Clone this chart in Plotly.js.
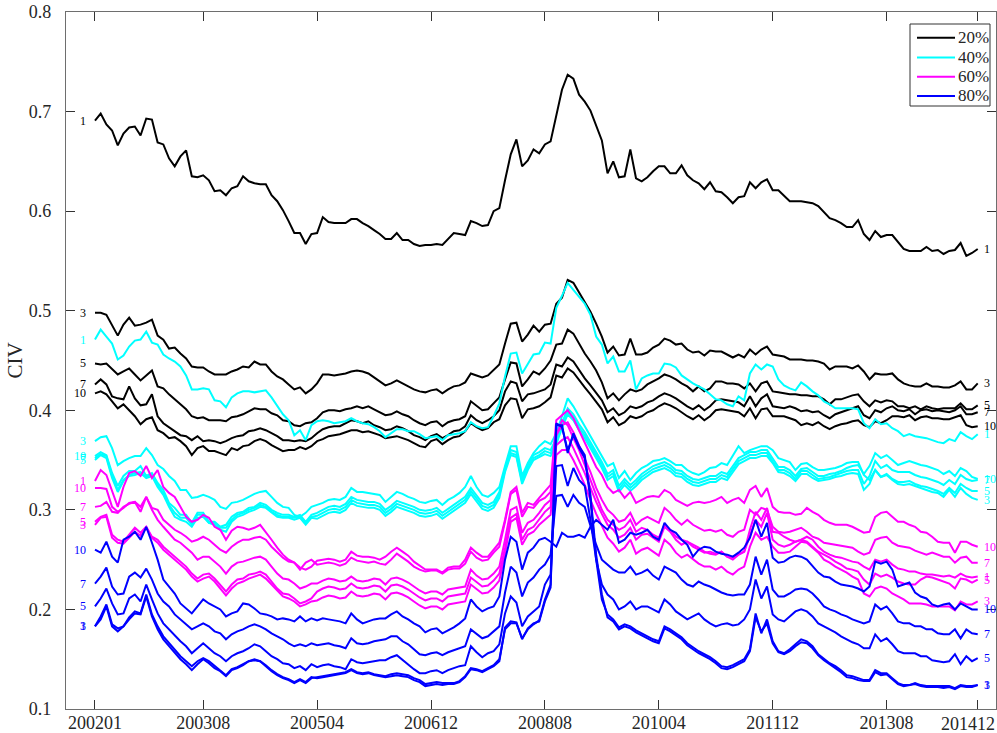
<!DOCTYPE html>
<html>
<head>
<meta charset="utf-8">
<script src="https://cdn.plot.ly/plotly-3.0.1.min.js"></script>
<style>
  html, body { margin: 0; padding: 0; background: #ffffff; }
  #chart { width: 997px; height: 733px; }
</style>
</head>
<body>
<div id="chart"></div>
<script>
// Monthly CIV term structure, 2002-01 .. 2014-12 (156 months), four quantile levels x five maturities.
const tickMonths = [0, 19, 39, 59, 79, 99, 119, 139, 155];
const tickLabels = ['200201', '200308', '200504', '200612', '200808', '201004', '201112', '201308', '201412'];
const maturities = ['1', '3', '5', '7', '10'];
const levels = ['20%', '40%', '60%', '80%'];
const levelColors = ['#000000', '#00ffff', '#ff00ff', '#0000ff'];

// 20% level
const p20_1 = [0.691,0.698,0.687,0.681,0.666,0.678,0.684,0.685,0.676,0.693,0.692,0.669,0.667,0.653,0.645,0.655,0.661,0.635,0.634,0.636,0.631,0.620,0.621,0.616,0.623,0.625,0.635,0.630,0.628,0.627,0.627,0.616,0.610,0.601,0.590,0.578,0.578,0.567,0.577,
0.578,0.594,0.589,0.588,0.588,0.588,0.592,0.592,0.588,0.585,0.581,0.577,0.572,0.572,0.578,0.571,0.571,0.567,0.565,0.566,0.566,0.567,0.566,0.572,0.578,0.577,0.576,0.590,0.588,0.585,0.586,0.600,0.603,0.631,0.657,0.672,0.645,0.651,0.662,0.658,
0.667,0.670,0.695,0.722,0.737,0.733,0.717,0.710,0.701,0.686,0.671,0.638,0.650,0.634,0.635,0.662,0.633,0.630,0.634,0.640,0.645,0.645,0.638,0.638,0.646,0.636,0.631,0.628,0.622,0.629,0.620,0.619,0.614,0.608,0.614,0.615,0.629,0.623,0.629,0.632,
0.621,0.621,0.615,0.610,0.610,0.610,0.609,0.608,0.605,0.599,0.593,0.591,0.588,0.584,0.584,0.591,0.577,0.571,0.580,0.574,0.576,0.576,0.569,0.562,0.560,0.560,0.560,0.564,0.560,0.561,0.557,0.560,0.561,0.568,0.555,0.558,0.562];
const p20_3 = [0.498,0.498,0.496,0.486,0.475,0.486,0.493,0.485,0.486,0.488,0.491,0.475,0.471,0.462,0.463,0.457,0.452,
0.444,0.443,0.443,0.439,0.436,0.436,0.436,0.439,0.441,0.444,0.443,0.449,0.446,0.446,0.439,0.434,0.431,0.426,0.421,0.423,0.417,0.421,
0.427,0.436,0.436,0.435,0.436,0.437,0.439,0.440,0.439,0.437,0.433,0.429,0.425,0.427,0.430,0.427,0.424,0.421,0.419,0.418,0.420,0.421,0.417,0.421,0.424,0.425,0.428,0.437,0.435,0.433,0.435,0.441,0.446,0.467,
0.487,0.488,0.469,0.476,0.485,0.479,0.486,0.487,0.507,0.513,0.531,0.528,0.518,0.509,0.499,0.487,0.474,0.458,0.464,0.455,0.456,0.472,0.456,0.456,0.458,0.463,0.466,0.472,0.470,0.466,0.467,0.461,0.458,0.459,0.455,0.460,0.459,0.459,0.456,0.453,0.456,0.453,0.461,0.456,0.461,0.464,
0.456,0.455,0.454,0.451,0.451,0.451,0.450,0.450,0.449,0.447,0.441,0.444,0.444,0.444,0.442,0.445,0.439,0.431,0.437,0.436,0.436,0.437,0.431,0.427,0.425,0.424,0.424,0.427,0.424,0.424,0.423,0.423,0.425,0.429,0.421,0.421,0.427];
const p20_5 = [0.447,0.446,0.447,0.442,0.436,0.439,0.442,0.436,0.430,0.435,0.440,0.424,0.422,0.416,0.411,0.406,0.401,0.394,0.392,0.393,0.390,0.390,0.390,0.389,0.393,0.394,0.396,0.399,0.402,0.401,0.401,0.397,0.395,0.390,0.389,0.385,0.384,0.387,0.388,
0.392,0.398,0.400,0.400,0.399,0.401,0.402,0.404,0.402,0.404,0.401,0.398,0.395,0.396,0.399,0.396,0.394,0.390,0.387,0.385,0.388,0.389,0.384,0.388,0.390,0.391,0.394,0.409,0.404,0.400,0.401,0.407,0.413,0.431,0.448,0.447,0.424,0.431,0.439,0.436,
0.442,0.450,0.466,0.467,0.481,0.477,0.467,0.457,0.449,0.440,0.428,0.412,0.417,0.410,0.416,0.421,0.419,0.421,0.426,0.429,0.432,0.436,0.434,0.431,0.427,0.424,0.419,0.424,0.419,0.422,0.429,0.429,0.427,0.427,0.426,0.422,
0.427,0.419,0.427,0.429,0.419,0.418,0.417,0.416,0.416,0.415,0.415,0.414,0.414,0.411,0.406,0.411,0.411,0.413,0.415,0.416,0.409,0.404,0.410,0.408,0.410,0.409,0.404,0.404,0.402,0.404,0.401,0.404,0.402,0.401,0.402,0.402,0.402,0.407,0.401,0.401,0.405];
const p20_7 = [0.426,0.431,0.426,0.414,0.412,0.411,0.424,0.412,0.405,0.406,0.416,0.394,0.387,0.383,0.379,0.375,0.374,0.370,0.374,0.369,0.370,0.369,0.367,0.369,0.372,0.374,0.375,0.379,0.380,0.382,0.380,0.377,0.374,0.370,0.370,
0.369,0.370,0.369,0.372,0.377,0.381,0.383,0.384,0.384,0.387,0.390,0.389,0.387,0.389,0.385,0.383,0.380,0.381,0.384,0.382,0.379,0.375,0.373,0.370,0.374,0.376,0.372,0.375,0.379,0.380,0.384,0.395,0.390,0.387,0.390,0.394,0.400,0.419,0.429,0.427,0.409,0.416,0.417,0.419,
0.421,0.426,0.446,0.444,0.453,0.449,0.440,0.432,0.425,0.418,0.410,0.398,0.402,0.395,0.398,0.404,0.402,0.404,0.408,0.410,0.414,0.417,0.415,0.412,0.408,0.404,0.401,0.405,0.400,0.404,0.410,0.411,0.410,0.409,0.408,0.404,
0.414,0.404,0.412,0.416,0.404,0.403,0.402,0.404,0.402,0.399,0.400,0.398,0.399,0.395,0.392,0.396,0.398,0.400,0.402,0.404,0.395,0.392,0.400,0.398,0.402,0.404,0.400,0.399,0.401,0.396,0.400,0.401,0.399,0.400,0.399,0.398,0.400,0.404,0.396,0.396,0.398];
const p20_10 = [0.417,0.419,0.416,0.409,0.402,0.406,0.400,0.394,0.386,0.391,0.393,0.380,0.377,0.372,0.373,0.369,0.364,0.355,0.362,0.364,0.359,0.359,0.357,0.355,0.362,0.360,0.364,0.365,0.369,0.371,0.369,0.365,0.362,0.359,0.360,
0.360,0.363,0.361,0.364,0.369,0.371,0.374,0.375,0.376,0.378,0.380,0.380,0.378,0.379,0.377,0.375,0.372,0.373,0.374,0.372,0.370,0.367,0.364,0.363,0.369,0.371,0.366,0.370,0.373,0.374,0.379,0.387,0.383,0.380,0.382,0.388,0.391,0.405,0.412,0.411,0.392,0.401,0.402,0.404,
0.408,0.413,0.435,0.433,0.442,0.438,0.430,0.423,0.416,0.409,0.401,0.388,0.393,0.385,0.388,0.394,0.392,0.394,0.398,0.400,0.404,0.407,0.405,0.402,0.398,0.394,0.391,0.395,0.390,0.394,0.400,0.401,0.400,0.399,0.398,0.394,
0.402,0.392,0.401,0.402,0.394,0.394,0.394,0.392,0.390,0.385,0.387,0.385,0.388,0.384,0.381,0.384,0.386,0.387,0.389,0.390,0.385,0.383,0.389,0.387,0.390,0.394,0.394,0.393,0.395,0.390,0.393,0.394,0.392,0.392,0.391,0.391,0.393,0.395,0.385,0.383,0.384];

// 40% level
const p40_1 = [0.471,0.481,0.474,0.467,0.451,0.455,0.464,0.470,0.471,0.479,0.468,0.466,0.456,0.452,
0.449,0.444,0.435,0.421,0.421,0.422,0.421,0.410,0.409,0.403,0.413,0.417,0.419,0.419,0.418,0.419,0.420,0.413,0.404,0.396,0.390,0.375,0.380,0.370,0.385,
0.389,0.390,0.389,0.387,0.388,0.389,0.392,0.389,0.387,0.386,0.383,0.379,0.373,0.377,0.381,0.381,0.379,0.379,0.376,0.372,0.373,0.374,0.370,0.375,0.376,0.377,0.379,0.388,0.384,0.382,0.383,0.394,0.407,0.434,0.457,0.458,0.437,0.447,0.456,0.457,
0.468,0.467,0.503,0.515,0.528,0.521,0.514,0.507,0.496,0.474,0.466,0.447,0.454,0.439,0.439,0.450,0.421,0.432,0.435,0.437,0.437,0.447,0.446,0.443,0.435,0.431,0.427,0.424,0.421,0.416,0.411,0.410,0.406,0.404,0.414,0.410,0.437,0.446,0.441,0.446,
0.444,0.431,0.425,0.422,0.420,0.428,0.424,0.419,0.415,0.409,0.406,0.402,0.402,0.402,0.402,0.401,0.387,0.382,0.391,0.386,0.387,0.382,0.379,0.374,0.376,0.374,0.373,0.372,0.370,0.368,0.367,0.371,0.369,0.378,0.374,0.371,0.376];
const p40_3 = [0.369,0.373,0.374,0.362,0.345,0.349,0.352,0.354,0.354,0.362,0.355,0.345,0.341,0.334,0.329,0.320,0.320,0.312,0.313,0.315,0.313,0.310,0.303,0.301,0.307,0.308,0.310,0.313,0.316,0.318,0.319,0.313,0.307,0.303,0.302,0.295,0.293,0.297,0.303,
0.305,0.307,0.310,0.311,0.310,0.313,0.322,0.318,0.318,0.317,0.316,0.315,0.308,0.313,0.318,0.316,0.313,0.311,0.308,0.307,0.309,0.310,0.305,0.310,0.313,0.317,0.323,0.334,0.323,0.315,0.313,0.317,0.323,0.344,0.364,0.364,0.334,0.347,0.357,0.364,
0.369,0.366,0.377,0.394,0.412,0.404,0.394,0.385,0.374,0.364,0.354,0.344,0.347,0.332,0.339,0.330,0.337,0.342,0.345,0.349,0.350,0.352,0.349,0.345,0.345,0.340,0.337,0.335,0.338,0.342,0.343,0.347,0.345,0.354,0.364,0.357,0.360,0.362,0.364,0.364,
0.360,0.352,0.350,0.348,0.340,0.346,0.347,0.343,0.340,0.340,0.341,0.342,0.344,0.347,0.348,0.348,0.335,0.330,0.340,0.333,0.335,0.330,0.326,0.325,0.326,0.324,0.322,0.320,0.318,0.317,0.313,0.320,0.313,0.322,0.316,0.312,0.310];
const p40_5 = [0.350,0.355,0.352,0.332,0.318,0.329,0.334,0.335,0.337,0.332,0.334,0.323,0.315,0.303,0.293,0.290,0.288,0.283,0.292,0.293,0.287,0.285,0.280,0.278,0.288,0.293,0.295,0.298,0.300,0.303,0.302,0.297,0.293,0.292,0.292,0.290,0.292,0.285,0.292,
0.291,0.294,0.297,0.298,0.297,0.300,0.307,0.304,0.303,0.302,0.302,0.300,0.294,0.298,0.303,0.301,0.299,0.297,0.294,0.293,0.294,0.296,0.291,0.295,0.299,0.303,0.307,0.316,0.309,0.301,0.299,0.302,0.312,0.338,0.355,0.353,0.326,0.340,0.350,0.353,
0.356,0.354,0.366,0.382,0.396,0.390,0.380,0.372,0.362,0.352,0.342,0.330,0.334,0.318,0.325,0.319,0.324,0.330,0.334,0.338,0.340,0.342,0.339,0.334,0.333,0.328,0.325,0.324,0.326,0.328,0.328,0.332,0.330,0.338,0.346,0.349,0.352,0.352,0.354,0.354,
0.347,0.338,0.337,0.334,0.329,0.336,0.336,0.332,0.329,0.330,0.331,0.333,0.334,0.336,0.337,0.336,0.320,0.326,0.340,0.333,0.336,0.331,0.328,0.328,0.329,0.326,0.324,0.323,0.321,0.319,0.316,0.322,0.317,0.326,0.322,0.319,0.319];
const p40_7 = [0.352,0.356,0.354,0.334,0.320,0.330,0.335,0.337,0.338,0.333,0.335,0.325,0.317,0.305,0.297,0.292,0.292,0.285,0.295,0.295,0.287,0.287,0.282,0.282,0.290,0.295,0.297,0.300,0.302,0.305,0.303,0.298,0.295,0.293,0.293,0.292,0.293,0.287,0.293,
0.294,0.297,0.300,0.301,0.300,0.303,0.310,0.307,0.306,0.305,0.305,0.303,0.297,0.301,0.306,0.304,0.302,0.300,0.297,0.296,0.297,0.299,0.294,0.298,0.302,0.306,0.310,0.319,0.312,0.304,0.302,0.305,0.315,0.340,0.357,0.355,0.328,0.342,0.352,0.355,
0.359,0.357,0.369,0.385,0.399,0.393,0.383,0.375,0.365,0.355,0.345,0.333,0.337,0.321,0.328,0.322,0.327,0.333,0.337,0.341,0.343,0.345,0.342,0.337,0.336,0.331,0.328,0.327,0.329,0.331,0.331,0.335,0.333,0.341,0.349,0.352,0.355,0.355,0.357,0.357,
0.349,0.340,0.340,0.337,0.331,0.339,0.339,0.335,0.331,0.332,0.333,0.335,0.337,0.339,0.340,0.340,0.326,0.334,0.349,0.342,0.345,0.340,0.338,0.338,0.338,0.335,0.333,0.332,0.330,0.328,0.325,0.330,0.326,0.335,0.331,0.329,0.330];
const p40_10 = [0.354,0.358,0.355,0.337,0.324,0.334,0.339,0.339,0.344,0.334,0.337,0.327,0.320,0.307,0.302,0.295,0.295,0.287,0.297,0.297,0.288,0.288,0.283,0.285,0.293,0.297,0.298,0.302,0.303,0.307,0.305,0.300,0.297,0.295,0.295,0.293,0.295,0.288,0.295,
0.297,0.300,0.303,0.304,0.303,0.306,0.313,0.310,0.309,0.308,0.308,0.306,0.300,0.304,0.309,0.307,0.305,0.303,0.300,0.299,0.300,0.302,0.297,0.301,0.305,0.309,0.313,0.322,0.315,0.307,0.305,0.308,0.318,0.342,0.360,0.358,0.331,0.345,0.355,0.358,
0.362,0.360,0.372,0.388,0.402,0.396,0.386,0.378,0.368,0.358,0.348,0.336,0.340,0.324,0.331,0.325,0.330,0.336,0.340,0.344,0.346,0.348,0.345,0.340,0.339,0.334,0.331,0.330,0.332,0.334,0.334,0.338,0.336,0.344,0.352,0.355,0.358,0.358,0.360,0.360,
0.352,0.343,0.343,0.340,0.334,0.341,0.342,0.338,0.334,0.334,0.336,0.337,0.339,0.342,0.344,0.345,0.336,0.344,0.357,0.352,0.355,0.350,0.345,0.347,0.349,0.347,0.345,0.344,0.342,0.340,0.336,0.339,0.334,0.342,0.339,0.333,0.331];

// 60% level
const p60_1 = [0.329,0.340,0.335,0.320,0.303,0.323,0.337,0.339,0.334,0.344,0.332,0.340,0.323,0.317,0.313,0.303,0.293,0.288,0.290,0.295,0.292,0.283,0.280,0.270,0.279,0.283,0.282,0.280,0.282,0.285,0.278,0.270,0.262,0.255,0.250,0.247,0.240,0.247,0.250,
0.245,0.246,0.247,0.246,0.244,0.246,0.252,0.249,0.248,0.247,0.248,0.246,0.245,0.250,0.256,0.252,0.248,0.243,0.240,0.238,0.239,0.239,0.236,0.240,0.241,0.241,0.246,0.258,0.252,0.249,0.250,0.257,0.263,0.288,0.316,0.320,0.293,0.303,0.302,0.309,
0.312,0.318,0.375,0.390,0.385,0.372,0.360,0.345,0.330,0.315,0.300,0.290,0.285,0.280,0.283,0.290,0.278,0.282,0.280,0.275,0.272,0.285,0.280,0.273,0.270,0.268,0.265,0.262,0.258,0.256,0.255,0.258,0.253,0.252,0.255,0.258,
0.280,0.298,0.290,0.302,0.278,0.277,0.273,0.270,0.268,0.270,0.273,0.270,0.263,0.258,0.255,0.253,0.252,0.250,0.248,0.247,0.243,0.240,0.250,0.248,0.250,0.245,0.241,0.240,0.238,0.238,0.236,0.235,0.235,0.234,0.233,0.234,0.232,0.236,0.233,0.232,0.233];
const p60_3 = [0.285,0.292,0.293,0.272,0.267,0.266,0.272,0.278,0.274,0.282,0.272,0.267,0.260,0.255,0.250,0.245,0.240,0.233,0.228,0.231,0.233,0.228,0.221,0.214,0.221,0.226,0.228,0.231,0.233,0.235,0.231,0.225,0.218,0.213,0.211,0.208,0.203,0.205,0.208,
0.209,0.212,0.214,0.213,0.211,0.212,0.218,0.214,0.213,0.214,0.216,0.215,0.210,0.216,0.217,0.215,0.212,0.208,0.204,0.201,0.203,0.203,0.200,0.205,0.206,0.207,0.208,0.225,0.220,0.216,0.217,0.222,0.229,0.256,0.288,0.292,0.265,0.275,0.278,0.285,
0.290,0.295,0.355,0.360,0.360,0.350,0.338,0.325,0.310,0.296,0.284,0.272,0.266,0.258,0.262,0.270,0.256,0.260,0.262,0.258,0.254,0.270,0.265,0.257,0.252,0.255,0.250,0.246,0.243,0.243,0.240,0.243,0.238,0.235,0.240,0.243,
0.263,0.277,0.270,0.273,0.263,0.257,0.257,0.258,0.263,0.268,0.267,0.262,0.257,0.250,0.247,0.243,0.240,0.237,0.233,0.230,0.216,0.213,0.221,0.223,0.221,0.216,0.213,0.210,0.206,0.206,0.206,0.205,0.203,0.203,0.203,0.203,0.199,0.208,0.205,0.205,0.208];
const p60_5 = [0.288,0.293,0.295,0.275,0.270,0.268,0.275,0.282,0.277,0.283,0.273,0.270,0.263,0.258,0.253,0.248,0.243,0.236,0.231,0.235,0.236,0.231,0.225,0.218,0.225,0.230,0.231,0.235,0.236,0.238,0.235,0.228,0.221,0.216,0.215,0.211,0.206,0.208,0.211,
0.218,0.221,0.223,0.222,0.220,0.221,0.226,0.222,0.221,0.222,0.224,0.223,0.218,0.224,0.225,0.223,0.220,0.216,0.212,0.209,0.211,0.211,0.208,0.213,0.214,0.215,0.216,0.232,0.227,0.223,0.224,0.229,0.236,0.262,0.292,0.296,0.270,0.280,0.283,0.290,
0.298,0.303,0.365,0.370,0.373,0.362,0.350,0.337,0.322,0.308,0.296,0.285,0.280,0.272,0.275,0.282,0.270,0.275,0.276,0.272,0.268,0.283,0.278,0.270,0.265,0.268,0.263,0.260,0.257,0.258,0.256,0.258,0.253,0.250,0.255,0.258,
0.273,0.290,0.283,0.297,0.270,0.265,0.263,0.265,0.268,0.270,0.268,0.263,0.258,0.255,0.252,0.248,0.245,0.241,0.240,0.238,0.230,0.225,0.236,0.233,0.235,0.232,0.228,0.226,0.225,0.225,0.230,0.233,0.232,0.230,0.228,0.226,0.221,0.231,0.230,0.227,0.230];
const p60_7 = [0.303,0.304,0.308,0.298,0.297,0.303,0.306,0.308,0.298,0.313,0.300,0.290,0.283,0.277,0.270,0.267,0.262,0.257,0.250,0.253,0.253,0.248,0.243,0.236,0.243,0.247,0.248,0.250,0.252,0.253,0.250,0.243,0.236,0.231,0.230,0.226,0.221,0.223,0.226,
0.226,0.229,0.231,0.230,0.228,0.229,0.233,0.229,0.228,0.229,0.231,0.230,0.225,0.231,0.232,0.230,0.227,0.223,0.219,0.216,0.218,0.218,0.215,0.220,0.221,0.222,0.223,0.240,0.234,0.230,0.231,0.236,0.243,0.270,0.300,0.303,0.277,0.287,0.290,0.297,
0.305,0.310,0.375,0.385,0.388,0.378,0.365,0.352,0.338,0.322,0.310,0.300,0.295,0.288,0.290,0.297,0.285,0.290,0.293,0.290,0.287,0.302,0.297,0.290,0.285,0.290,0.285,0.282,0.279,0.280,0.278,0.280,0.275,0.273,0.278,0.280,
0.300,0.295,0.302,0.300,0.283,0.278,0.277,0.278,0.280,0.282,0.278,0.273,0.271,0.267,0.266,0.265,0.264,0.263,0.262,0.258,0.255,0.257,0.270,0.272,0.273,0.267,0.264,0.263,0.262,0.259,0.257,0.255,0.257,0.255,0.253,0.253,0.247,0.252,0.253,0.247,0.247];
const p60_10 = [0.322,0.322,0.321,0.303,0.298,0.302,0.307,0.308,0.303,0.313,0.302,0.300,0.290,0.285,0.280,0.277,0.273,0.268,0.270,0.273,0.270,0.265,0.260,0.257,0.263,0.267,0.270,0.270,0.272,0.273,0.270,0.263,0.257,0.252,0.248,0.247,0.242,0.240,0.243,
0.249,0.250,0.251,0.250,0.248,0.250,0.258,0.254,0.253,0.253,0.252,0.250,0.253,0.258,0.262,0.258,0.254,0.248,0.244,0.240,0.240,0.240,0.237,0.242,0.243,0.243,0.250,0.262,0.257,0.253,0.253,0.260,0.267,0.290,0.318,0.323,0.297,0.307,0.305,0.312,
0.318,0.325,0.390,0.395,0.400,0.392,0.380,0.368,0.355,0.343,0.335,0.323,0.317,0.320,0.312,0.318,0.307,0.310,0.313,0.314,0.313,0.320,0.317,0.310,0.307,0.304,0.307,0.308,0.307,0.308,0.310,0.313,0.307,0.310,0.312,0.307,
0.320,0.324,0.313,0.322,0.303,0.298,0.297,0.297,0.295,0.296,0.302,0.298,0.295,0.290,0.287,0.285,0.285,0.285,0.283,0.280,0.277,0.278,0.293,0.297,0.298,0.293,0.288,0.288,0.285,0.283,0.278,0.277,0.273,0.268,0.267,0.267,0.257,0.268,0.268,0.265,0.263];

// 80% level
const p80_1 = [0.183,0.190,0.203,0.183,0.178,0.183,0.192,0.198,0.196,0.215,0.195,0.183,0.173,0.166,0.160,0.153,0.148,0.143,0.148,0.151,0.148,0.143,0.139,0.134,0.140,0.142,0.145,0.148,0.150,0.148,0.144,0.139,0.135,0.132,0.130,0.127,0.130,0.127,0.132,
0.131,0.132,0.133,0.134,0.135,0.136,0.139,0.136,0.135,0.136,0.134,0.133,0.132,0.133,0.134,0.133,0.132,0.129,0.127,0.123,0.124,0.125,0.124,0.125,0.125,0.127,0.132,0.140,0.139,0.137,0.140,0.143,0.148,0.182,0.188,0.187,0.170,0.181,0.186,0.188,
0.208,0.222,0.387,0.383,0.360,0.375,0.362,0.352,0.315,0.255,0.215,0.192,0.188,0.180,0.183,0.181,0.177,0.174,0.171,0.168,0.166,0.181,0.178,0.174,0.170,0.164,0.160,0.156,0.153,0.150,0.146,0.141,0.140,0.142,0.145,0.148,0.158,0.192,0.178,0.186,
0.166,0.157,0.155,0.158,0.163,0.167,0.166,0.161,0.154,0.149,0.145,0.141,0.137,0.132,0.131,0.129,0.128,0.128,0.137,0.134,0.135,0.130,0.125,0.123,0.124,0.125,0.123,0.122,0.122,0.122,0.121,0.122,0.120,0.123,0.122,0.122,0.124];
const p80_3 = [0.183,0.193,0.205,0.185,0.181,0.183,0.190,0.196,0.195,0.213,0.193,0.180,0.170,0.163,0.156,0.150,0.145,0.139,0.145,0.150,0.146,0.141,0.138,0.133,0.139,0.141,0.144,0.148,0.149,0.148,0.143,0.138,0.134,0.131,0.129,0.126,0.129,0.126,0.131,
0.132,0.133,0.134,0.135,0.136,0.137,0.140,0.137,0.136,0.137,0.135,0.134,0.133,0.135,0.136,0.135,0.134,0.131,0.129,0.125,0.126,0.127,0.126,0.126,0.126,0.128,0.133,0.141,0.140,0.138,0.141,0.144,0.150,0.180,0.186,0.186,0.171,0.180,0.185,0.189,
0.210,0.225,0.385,0.385,0.357,0.377,0.364,0.355,0.310,0.250,0.210,0.195,0.190,0.182,0.185,0.183,0.179,0.176,0.173,0.170,0.168,0.183,0.180,0.176,0.172,0.166,0.162,0.158,0.155,0.152,0.148,0.143,0.142,0.144,0.147,0.150,0.160,0.196,0.176,0.190,
0.168,0.158,0.156,0.160,0.165,0.170,0.168,0.163,0.155,0.150,0.146,0.143,0.139,0.134,0.133,0.131,0.129,0.129,0.139,0.136,0.136,0.131,0.126,0.124,0.124,0.126,0.124,0.123,0.123,0.123,0.123,0.123,0.121,0.124,0.123,0.123,0.124];
const p80_5 = [0.203,0.211,0.221,0.206,0.195,0.196,0.211,0.215,0.208,0.225,0.210,0.196,0.186,0.180,0.173,0.168,0.163,0.156,0.161,0.166,0.161,0.156,0.153,0.148,0.153,0.156,0.158,0.161,0.165,0.163,0.158,0.153,0.150,0.146,0.145,0.141,0.143,0.139,0.145,
0.142,0.144,0.145,0.143,0.142,0.140,0.150,0.147,0.146,0.147,0.148,0.149,0.149,0.152,0.154,0.149,0.145,0.140,0.136,0.136,0.138,0.139,0.136,0.139,0.141,0.143,0.144,0.163,0.157,0.152,0.156,0.158,0.165,0.196,0.213,0.207,0.183,0.193,0.198,0.203,
0.225,0.235,0.344,0.345,0.324,0.342,0.330,0.324,0.290,0.250,0.225,0.215,0.210,0.200,0.203,0.208,0.200,0.203,0.203,0.200,0.197,0.210,0.205,0.198,0.194,0.190,0.193,0.196,0.190,0.186,0.183,0.185,0.186,0.184,0.185,0.190,0.200,0.230,0.211,0.223,
0.195,0.190,0.188,0.193,0.198,0.200,0.198,0.193,0.186,0.183,0.180,0.177,0.173,0.170,0.167,0.165,0.161,0.161,0.175,0.168,0.171,0.165,0.158,0.156,0.156,0.156,0.153,0.153,0.149,0.148,0.147,0.148,0.155,0.145,0.153,0.148,0.151];
const p80_7 = [0.226,0.233,0.242,0.223,0.215,0.216,0.233,0.237,0.232,0.241,0.230,0.216,0.208,0.203,0.195,0.190,0.185,0.180,0.183,0.186,0.183,0.178,0.176,0.170,0.175,0.178,0.180,0.183,0.185,0.183,0.180,0.176,0.173,0.170,0.166,0.163,0.165,0.163,0.166,
0.164,0.165,0.166,0.164,0.163,0.161,0.171,0.166,0.165,0.166,0.168,0.169,0.170,0.173,0.173,0.168,0.165,0.160,0.155,0.154,0.156,0.157,0.154,0.157,0.159,0.161,0.163,0.180,0.175,0.171,0.173,0.178,0.183,0.217,0.243,0.237,0.213,0.227,0.232,0.240,
0.245,0.255,0.314,0.315,0.303,0.315,0.307,0.303,0.285,0.265,0.250,0.245,0.240,0.237,0.237,0.243,0.235,0.237,0.240,0.234,0.230,0.243,0.240,0.237,0.230,0.225,0.223,0.228,0.225,0.223,0.220,0.217,0.215,0.214,0.215,0.215,0.225,0.253,0.235,0.250,
0.220,0.213,0.213,0.216,0.220,0.221,0.220,0.216,0.210,0.203,0.200,0.198,0.195,0.193,0.190,0.188,0.186,0.188,0.205,0.200,0.203,0.196,0.188,0.186,0.186,0.183,0.183,0.180,0.180,0.176,0.175,0.175,0.180,0.171,0.180,0.176,0.175];
const p80_10 = [0.260,0.257,0.268,0.253,0.247,0.270,0.273,0.278,0.270,0.283,0.267,0.250,0.230,0.223,0.216,0.206,0.201,0.196,0.203,0.210,0.206,0.203,0.200,0.193,0.196,0.198,0.206,0.205,0.201,0.196,0.195,0.193,0.190,0.191,0.190,0.188,0.193,0.188,0.191,
0.189,0.191,0.190,0.189,0.188,0.186,0.196,0.190,0.186,0.188,0.190,0.191,0.191,0.195,0.198,0.193,0.190,0.186,0.183,0.177,0.180,0.181,0.176,0.179,0.182,0.186,0.191,0.210,0.203,0.198,0.201,0.203,0.213,0.250,0.273,0.268,0.240,0.257,0.262,0.270,
0.272,0.268,0.263,0.277,0.273,0.273,0.275,0.272,0.283,0.290,0.285,0.280,0.290,0.267,0.270,0.277,0.275,0.277,0.280,0.273,0.270,0.287,0.280,0.277,0.270,0.265,0.253,0.260,0.263,0.262,0.258,0.256,0.255,0.253,0.257,0.262,0.272,0.290,0.273,0.287,
0.252,0.247,0.248,0.252,0.254,0.253,0.250,0.243,0.237,0.233,0.232,0.228,0.225,0.224,0.223,0.221,0.218,0.223,0.248,0.246,0.248,0.240,0.223,0.225,0.227,0.217,0.213,0.211,0.205,0.203,0.205,0.206,0.200,0.206,0.203,0.200,0.200];

const levelSeries = [
  [p20_1, p20_3, p20_5, p20_7, p20_10],
  [p40_1, p40_3, p40_5, p40_7, p40_10],
  [p60_1, p60_3, p60_5, p60_7, p60_10],
  [p80_1, p80_3, p80_5, p80_7, p80_10]
];

const serif = 'Liberation Serif, Times New Roman, serif';
const W = 997, H = 733;
const margin = { l: 66, r: 1, t: 12, b: 24 };
const plotW = W - margin.l - margin.r, plotH = H - margin.t - margin.b;
// pixel -> paper helpers for the legend box
const px = v => (v - margin.l) / plotW;
const py = v => (H - margin.b - v) / plotH;

const traces = [];
const annotations = [];
const shapes = [];

levelSeries.forEach((group, g) => {
  group.forEach((values, m) => {
    if (values.length !== 156) throw new Error('series ' + levels[g] + ' ' + maturities[m] + ' has ' + values.length + ' points');
    const months = values.map((_, i) => i);
    traces.push({
      type: 'scatter', mode: 'lines',
      x: months, y: values,
      name: levels[g], showlegend: false,
      line: { color: levelColors[g], width: 2 }
    });
    // maturity tags at both ends of each curve
    annotations.push({
      x: 0, y: values[0], xref: 'x', yref: 'y', text: maturities[m],
      showarrow: false, xanchor: 'right', yanchor: 'middle', xshift: -7,
      font: { family: serif, size: 12, color: levelColors[g] }
    });
    annotations.push({
      x: values.length - 1, y: values[values.length - 1], xref: 'x', yref: 'y', text: maturities[m],
      showarrow: false, xanchor: 'left', yanchor: 'middle', xshift: 4,
      font: { family: serif, size: 12, color: levelColors[g] }
    });
  });
});

// legend box drawn with shapes: frame, line samples and level names
shapes.push({ type: 'rect', xref: 'paper', yref: 'paper', x0: px(910), x1: px(990), y0: py(106), y1: py(24),
  line: { color: '#333333', width: 1 }, fillcolor: '#ffffff', layer: 'above' });
const legendRows = [37.7, 57.5, 76.8, 96];
levels.forEach((name, g) => {
  shapes.push({ type: 'line', xref: 'paper', yref: 'paper', x0: px(917), x1: px(955), y0: py(legendRows[g]), y1: py(legendRows[g]),
    line: { color: levelColors[g], width: 2 }, layer: 'above' });
  annotations.push({ xref: 'paper', yref: 'paper', x: px(956), y: py(legendRows[g]), text: name,
    showarrow: false, xanchor: 'left', yanchor: 'middle',
    font: { family: serif, size: 17, color: '#262626' } });
});

// last date label sits inside the figure edge
annotations.push({ xref: 'x', yref: 'paper', x: tickMonths[tickMonths.length - 1], y: 0, text: tickLabels[tickLabels.length - 1],
  showarrow: false, xanchor: 'center', yanchor: 'top', xshift: -10, yshift: -3,
  font: { family: serif, size: 18, color: '#262626' } });

const axisCommon = {
  showline: true, linecolor: '#6e6e6e', linewidth: 1.2, mirror: 'ticks',
  ticks: 'inside', ticklen: 9, tickwidth: 1, tickcolor: '#333333',
  showgrid: false, zeroline: false,
  tickfont: { family: serif, size: 18, color: '#262626' }
};

const layout = {
  width: W, height: H,
  margin: margin,
  paper_bgcolor: '#ffffff', plot_bgcolor: '#ffffff',
  showlegend: false,
  xaxis: Object.assign({}, axisCommon, {
    range: [-5.09, 158.21],
    tickmode: 'array', tickvals: tickMonths,
    ticktext: tickLabels.map((t, i) => i === tickLabels.length - 1 ? '' : t),
    ticklabelstandoff: -3
  }),
  yaxis: Object.assign({}, axisCommon, {
    range: [0.1, 0.8],
    tickmode: 'array', tickvals: [0.1, 0.2, 0.3, 0.4, 0.5, 0.6, 0.7, 0.8],
    ticktext: ['0.1', '0.2', '0.3', '0.4', '0.5', '0.6', '0.7', '0.8'],
    ticklabelstandoff: 10,
    title: { text: 'CIV', font: { family: serif, size: 21, color: '#262626' }, standoff: 0 }
  }),
  shapes: shapes,
  annotations: annotations
};

Plotly.newPlot('chart', traces, layout, { staticPlot: true, displayModeBar: false });
</script>
</body>
</html>
